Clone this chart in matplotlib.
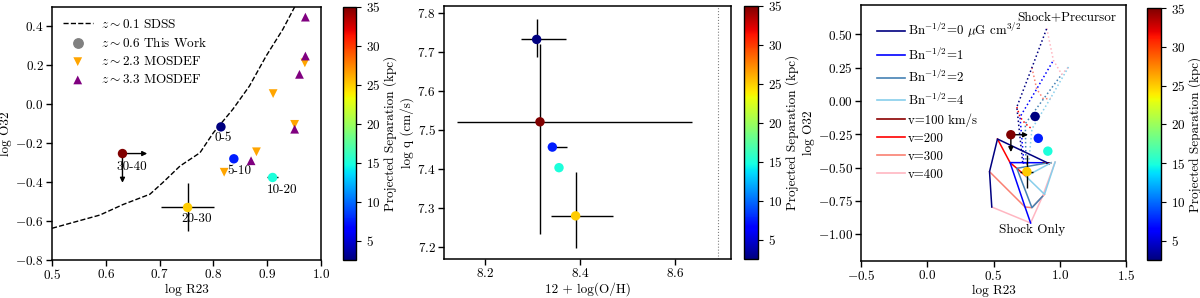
import numpy as np
import matplotlib
matplotlib.use("Agg")
import matplotlib.pyplot as plt
from matplotlib.lines import Line2D
from matplotlib.colors import Normalize
from matplotlib.cm import ScalarMappable

plt.rcParams['font.family'] = ['cmr10', 'DejaVu Serif']
plt.rcParams['mathtext.fontset'] = 'cm'
plt.rcParams['axes.formatter.use_mathtext'] = True
plt.rcParams['font.size'] = 9.5
plt.rcParams['axes.linewidth'] = 1.1
plt.rcParams['xtick.direction'] = 'out'
plt.rcParams['ytick.direction'] = 'out'

# ---------------- data ----------------
bins = ["0-5", "5-10", "10-20", "20-30", "30-40"]
sep = [2.5, 7.5, 15, 25, 35]
logR23 = [0.814, 0.838, 0.910, 0.752, 0.631]
logO32 = [-0.116, -0.280, -0.376, -0.530, -0.253]
R23_lo = [0.0, 0.0, 0.010, 0.050, 0.0]
R23_hi = [0.0, 0.0, 0.011, 0.049, 0.0]
O32_lo = [0.0, 0.0, 0.015, 0.123, 0.0]
O32_hi = [0.0, 0.0, 0.024, 0.128, 0.0]
is_limit = [False, False, False, False, True]

OH = [8.309, 8.342, 8.356, 8.391, 8.316]
OH_lo = [0.034, 0.0, 0.0, 0.051, 0.174]
OH_hi = [0.062, 0.030, 0.0, 0.079, 0.319]
logq = [7.733, 7.456, 7.403, 7.279, 7.521]
q_lo = [0.045, 0.0, 0.0, 0.082, 0.289]
q_hi = [0.052, 0.0, 0.0, 0.112, 0.199]
solar_OH = 8.69

sdss_x = [0.50, 0.589, 0.632, 0.682, 0.706, 0.738, 0.775, 0.80, 0.836, 0.867, 0.898, 0.929, 0.951]
sdss_y = [-0.637, -0.569, -0.515, -0.462, -0.402, -0.317, -0.249, -0.146, -0.026, 0.094, 0.248, 0.385, 0.50]

m23_x = [0.820, 0.880, 0.911, 0.951, 0.970]
m23_y = [-0.349, -0.244, 0.055, -0.103, 0.213]
m33_x = [0.870, 0.951, 0.960, 0.971, 0.971]
m33_y = [-0.290, -0.128, 0.154, 0.248, 0.448]

B_vals = ["0", "1", "2", "4"]
v_vals = ["100", "200", "300", "400"]
# shock only grid: rows B, cols v
shock_R23 = [[0.920, 0.530, 0.470, 0.487],
             [0.865, 0.625, 0.738, 0.780],
             [0.890, 0.676, 0.790, 0.870],
             [0.935, 0.745, 0.885, 0.965]]
shock_O32 = [[-0.470, -0.285, -0.530, -0.795],
             [-0.463, -0.462, -0.795, -0.915],
             [-0.467, -0.505, -0.800, -0.715],
             [-0.463, -0.565, -0.700, -0.458]]
# shock + precursor grid
prec_R23 = [[0.720, 0.676, 0.790, 0.902],
            [0.730, 0.700, 0.826, 0.952],
            [0.745, 0.740, 0.877, 1.015],
            [0.765, 0.790, 0.930, 1.066]]
prec_O32 = [[-0.460, -0.045, 0.250, 0.545],
            [-0.470, -0.120, 0.090, 0.305],
            [-0.470, -0.170, 0.015, 0.200],
            [-0.470, -0.210, 0.020, 0.255]]

B_colors = ['#000080', '#0000FF', '#4682B4', '#87CEEB']
v_colors = ['#8B0000', '#FF0000', '#FA8072', '#FFB6C1']

label_off_px = [(2, -11), (6, -12), (10, -12), (9, -11), (9, -13)]

cmap = plt.get_cmap('jet')
norm = Normalize(vmin=2.5, vmax=35)

fig = plt.figure(figsize=(12, 2.98), dpi=100)

def axes_px(l, r, t, b):
    W, H = 1200, 298
    return fig.add_axes([l / W, (H - b) / H, (r - l) / W, (b - t) / H])

ax1 = axes_px(52, 321, 7, 260)
cax1 = axes_px(343, 356, 7, 260)
ax2 = axes_px(444, 731, 6, 259)
cax2 = axes_px(744, 758, 6, 259)
ax3 = axes_px(861, 1126, 5, 261)
cax3 = axes_px(1147, 1161, 8, 260)

def draw_points(ax, xs, ys, xlo, xhi, ylo, yhi, arrow_dx, arrow_dy):
    for i in range(len(xs)):
        if xlo[i] + xhi[i] > 0 or ylo[i] + yhi[i] > 0:
            ax.errorbar(xs[i], ys[i], xerr=[[xlo[i]], [xhi[i]]], yerr=[[ylo[i]], [yhi[i]]],
                        fmt='none', ecolor='black', elinewidth=1.0, capsize=0, zorder=3)
        if is_limit[i]:
            ax.annotate('', xy=(xs[i] + arrow_dx, ys[i]), xytext=(xs[i], ys[i]),
                        arrowprops=dict(arrowstyle='-|>', color='black', lw=1.0,
                                        mutation_scale=7, shrinkA=0, shrinkB=0), zorder=3)
            ax.annotate('', xy=(xs[i], ys[i] - arrow_dy), xytext=(xs[i], ys[i]),
                        arrowprops=dict(arrowstyle='-|>', color='black', lw=1.0,
                                        mutation_scale=7, shrinkA=0, shrinkB=0), zorder=3)
    ax.scatter(xs, ys, c=sep, cmap=cmap, norm=norm, s=46, zorder=5, edgecolors='none')

# ---------------- panel 1 ----------------
ax1.plot(sdss_x, sdss_y, 'k--', lw=1.0, label=r'$z\sim0.1$ SDSS')
ax1.scatter([], [], c='gray', s=46, marker='o', label=r'$z\sim0.6$ This Work')
ax1.scatter(m23_x, m23_y, marker='v', c='#FFA500', s=40, zorder=4, edgecolors='none',
            label=r'$z\sim2.3$ MOSDEF')
ax1.scatter(m33_x, m33_y, marker='^', c='#800080', s=40, zorder=4, edgecolors='none',
            label=r'$z\sim3.3$ MOSDEF')
draw_points(ax1, logR23, logO32, R23_lo, R23_hi, O32_lo, O32_hi, 0.046, 0.15)
for i, lab in enumerate(bins):
    dx, dy = label_off_px[i]
    ax1.annotate(lab, (logR23[i], logO32[i]), xytext=(dx * 0.72, dy * 0.72),
                 textcoords='offset points', ha='center', va='center', fontsize=9.5)
ax1.set_xlim(0.5, 1.0)
ax1.set_ylim(-0.8, 0.5)
ax1.set_xticks([0.5, 0.6, 0.7, 0.8, 0.9, 1.0])
ax1.set_yticks([-0.8, -0.6, -0.4, -0.2, 0.0, 0.2, 0.4])
ax1.set_xlabel('log R23', labelpad=1)
ax1.set_ylabel('log O32', labelpad=2)
ax1.legend(loc='upper left', frameon=False, fontsize=9.5, handlelength=2.3,
           borderaxespad=0.4, labelspacing=0.4, handletextpad=0.6)

# ---------------- panel 2 ----------------
draw_points(ax2, OH, logq, OH_lo, OH_hi, q_lo, q_hi, 0, 0)
ax2.axvline(solar_OH, color='gray', ls=':', lw=0.8)
ax2.set_xlim(8.114, 8.718)
ax2.set_ylim(7.168, 7.819)
ax2.set_xticks([8.2, 8.4, 8.6])
ax2.set_yticks([7.2, 7.3, 7.4, 7.5, 7.6, 7.7, 7.8])
ax2.set_xlabel('12 + log(O/H)', labelpad=1)
ax2.set_ylabel('log q (cm/s)', labelpad=2)

# ---------------- panel 3 ----------------
sR = np.array(shock_R23); sO = np.array(shock_O32)
pR = np.array(prec_R23); pO = np.array(prec_O32)
for j in range(4):
    ax3.plot(pR[:, j], pO[:, j], color=v_colors[j], ls=':', lw=1.1, zorder=2)
for i in range(4):
    ax3.plot(pR[i], pO[i], color=B_colors[i], ls=':', lw=1.1, zorder=2)
for j in range(4):
    ax3.plot(sR[:, j], sO[:, j], color=v_colors[j], lw=1.1, zorder=2)
for i in range(4):
    ax3.plot(sR[i], sO[i], color=B_colors[i], lw=1.1, zorder=2)
draw_points(ax3, logR23, logO32, R23_lo, R23_hi, O32_lo, O32_hi, 0.13, 0.13)
handles = []
for i, b in enumerate(B_vals):
    lab = r'Bn$^{-1/2}$=' + b + (r' $\mu$G cm$^{3/2}$' if i == 0 else '')
    handles.append(Line2D([], [], color=B_colors[i], lw=1.2, label=lab))
for j, v in enumerate(v_vals):
    lab = 'v=' + v + (' km/s' if j == 0 else '')
    handles.append(Line2D([], [], color=v_colors[j], lw=1.2, label=lab))
ax3.legend(handles=handles, loc='upper left', frameon=False, fontsize=9.3, handlelength=2.2,
           borderaxespad=0.8, labelspacing=0.45, handletextpad=0.2)
ax3.text(1.053, 0.63, 'Shock+Precursor', ha='center', va='center', fontsize=9.5)
ax3.text(0.789, -0.97, 'Shock Only', ha='center', va='center', fontsize=9.5)
ax3.set_xlim(-0.5, 1.5)
ax3.set_ylim(-1.2, 0.72)
ax3.set_xticks([-0.5, 0.0, 0.5, 1.0, 1.5])
ax3.set_yticks([-1.0, -0.75, -0.5, -0.25, 0.0, 0.25, 0.5])
ax3.set_xlabel('log R23', labelpad=1)
ax3.set_ylabel('log O32', labelpad=2)

# ---------------- colorbars ----------------
sm = ScalarMappable(norm=norm, cmap=cmap)
for cax in (cax1, cax2, cax3):
    cb = fig.colorbar(sm, cax=cax)
    cb.set_ticks([5, 10, 15, 20, 25, 30, 35])
    cb.set_label('Projected Separation (kpc)', labelpad=2)
    cb.outline.set_linewidth(1.0)

for ax in (ax1, ax2, ax3):
    ax.tick_params(length=4, width=1.0, pad=2)

fig.savefig('out.png', dpi=100)
